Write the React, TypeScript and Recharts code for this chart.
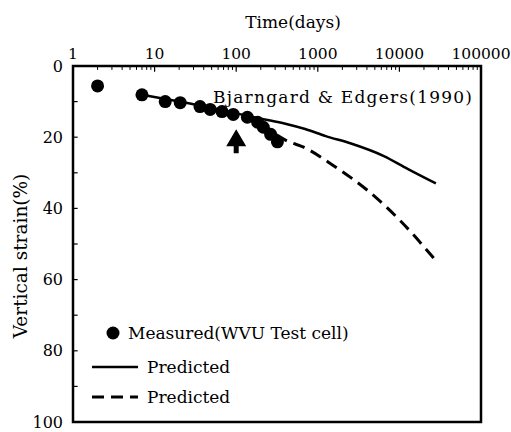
import { ComposedChart, Line, Scatter, XAxis, YAxis, ReferenceDot, ReferenceArea, ReferenceLine } from "recharts";

// measured settlement of the WVU test cell
const measuredTime = [2, 7, 13.5, 20.6, 36, 48, 67, 92, 137, 183, 215, 264, 320];
const measuredStrain = [5.6, 8.1, 10, 10.3, 11.4, 12.2, 12.8, 13.6, 14.4, 15.8, 17.2, 19.2, 21.3];

// Bjarngard & Edgers prediction (solid)
const solidTime = [7, 20, 50, 100, 200, 400, 700, 1250, 2500, 6450, 12600, 28000];
const solidStrain = [8.1, 10, 11.8, 13.3, 14.8, 16.2, 17.7, 19.7, 21.7, 25.3, 28.9, 33];

// second prediction (dashed)
const dashedTime = [200, 426, 670, 1560, 4100, 10400, 28000];
const dashedStrain = [16.3, 21.1, 22.8, 28, 35, 43.6, 54.7];

const xTicks = [1, 10, 100, 1000, 10000, 100000];
const xMinorTicks = [
  2, 3, 4, 5, 6, 7, 8, 9, 20, 30, 40, 50, 60, 70, 80, 90, 200, 300, 400, 500, 600, 700, 800, 900,
  2000, 3000, 4000, 5000, 6000, 7000, 8000, 9000, 20000, 30000, 40000, 50000, 60000, 70000, 80000, 90000,
];
const yTicks = [0, 20, 40, 60, 80, 100];
const yMinorTicks = [10, 30, 50, 70, 90];

const arrowTime = 100;
const arrowTipStrain = 17.8;

const font = "'DejaVu Serif', 'Liberation Serif', serif";

const toRows = (t: number[], s: number[]) => t.map((v, i) => ({ t: v, s: s[i] }));

const measured = toRows(measuredTime, measuredStrain);
const solid = toRows(solidTime, solidStrain);
const dashed = toRows(dashedTime, dashedStrain);

const Arrow = (props: any) => {
  const { cx, cy } = props;
  if (cx == null || cy == null) return null;
  return (
    <path
      d={`M${cx},${cy} L${cx + 10},${cy + 17} L${cx + 2.5},${cy + 17} L${cx + 2.5},${cy + 24} L${cx - 2.5},${cy + 24} L${cx - 2.5},${cy + 17} L${cx - 10},${cy + 17} Z`}
      fill="#000"
    />
  );
};

export default function App() {
  const domainX: [number, number] = [1, 100000];
  return (
    <div style={{ position: "absolute", left: 0, top: 0, background: "#fff" }}>
      <ComposedChart width={511} height={432} margin={{ top: 0, right: 30, bottom: 10, left: 0 }}>
        <XAxis
          xAxisId="t"
          dataKey="t"
          type="number"
          scale="log"
          domain={domainX}
          allowDataOverflow
          orientation="top"
          ticks={xTicks}
          interval={0}
          height={66}
          stroke="#000"
          tickLine={false}
          tickSize={0}
          tickMargin={7}
          axisLine={{ stroke: "#000", strokeWidth: 2 }}
          tick={{ fill: "#000", fontSize: 15.5, fontFamily: font }}
        />
        <YAxis
          yAxisId="s"
          type="number"
          domain={[0, 100]}
          reversed
          ticks={yTicks}
          interval={0}
          width={73}
          stroke="#000"
          tickLine={false}
          tickSize={0}
          tickMargin={10}
          axisLine={{ stroke: "#000", strokeWidth: 2 }}
          tick={{ fill: "#000", fontSize: 16, fontFamily: font }}
        />
        <ReferenceArea
          xAxisId="t"
          yAxisId="s"
          x1={1}
          x2={100000}
          y1={0}
          y2={100}
          fill="none"
          fillOpacity={0}
          stroke="#000"
          strokeWidth={2.5}
          ifOverflow="visible"
        />
        {xMinorTicks.map((v) => (
          <ReferenceLine
            key={`xm${v}`}
            xAxisId="t"
            yAxisId="s"
            segment={[{ x: v, y: 0 }, { x: v, y: 1.1 }]}
            stroke="#000"
            strokeWidth={1}
            ifOverflow="visible"
          />
        ))}
        {xTicks.map((v) => (
          <ReferenceLine
            key={`xM${v}`}
            xAxisId="t"
            yAxisId="s"
            segment={[{ x: v, y: 0 }, { x: v, y: 1.6 }]}
            stroke="#000"
            strokeWidth={1.2}
            ifOverflow="visible"
          />
        ))}
        {[...yTicks, ...yMinorTicks].map((v) => (
          <ReferenceLine
            key={`y${v}`}
            xAxisId="t"
            yAxisId="s"
            segment={[{ x: 1, y: v }, { x: 1.14, y: v }]}
            stroke="#000"
            strokeWidth={1.2}
            ifOverflow="visible"
          />
        ))}
        <Line
          xAxisId="t"
          yAxisId="s"
          data={solid}
          dataKey="s"
          stroke="#000"
          strokeWidth={2.5}
          dot={false}
          type="monotone"
          isAnimationActive={false}
        />
        <Line
          xAxisId="t"
          yAxisId="s"
          data={dashed}
          dataKey="s"
          stroke="#000"
          strokeWidth={3}
          strokeDasharray="12 7"
          dot={false}
          type="monotone"
          isAnimationActive={false}
        />
        <Scatter
          xAxisId="t"
          yAxisId="s"
          data={measured}
          dataKey="s"
          fill="#000"
          shape={(p: any) => <circle cx={p.cx} cy={p.cy} r={6.5} fill="#000" />}
          isAnimationActive={false}
        />
        <ReferenceDot xAxisId="t" yAxisId="s" x={arrowTime} y={arrowTipStrain} shape={Arrow} />

        <text x={293} y={28} textAnchor="middle" fontFamily={font} fontSize={17} fill="#000">
          Time(days)
        </text>
        <text
          x={22}
          y={256}
          textAnchor="middle"
          fontFamily={font}
          fontSize={18.5}
          fill="#000"
          transform="rotate(-90 22 256)"
          dominantBaseline="middle"
        >
          Vertical strain(%)
        </text>
        <text
          x={213}
          y={103}
          fontFamily={font}
          fontSize={17}
          fill="#000"
          textLength={259}
          lengthAdjust="spacing"
        >
          Bjarngard &amp; Edgers(1990)
        </text>

        <circle cx={113} cy={333} r={6.5} fill="#000" />
        <text x={128} y={339} fontFamily={font} fontSize={17} fill="#000">
          Measured(WVU Test cell)
        </text>
        <line x1={92} y1={367} x2={138} y2={367} stroke="#000" strokeWidth={2.5} />
        <text x={147} y={373} fontFamily={font} fontSize={17} fill="#000">
          Predicted
        </text>
        <line x1={92} y1={397} x2={138} y2={397} stroke="#000" strokeWidth={3} strokeDasharray="12 7" />
        <text x={147} y={403} fontFamily={font} fontSize={17} fill="#000">
          Predicted
        </text>
      </ComposedChart>
    </div>
  );
}
